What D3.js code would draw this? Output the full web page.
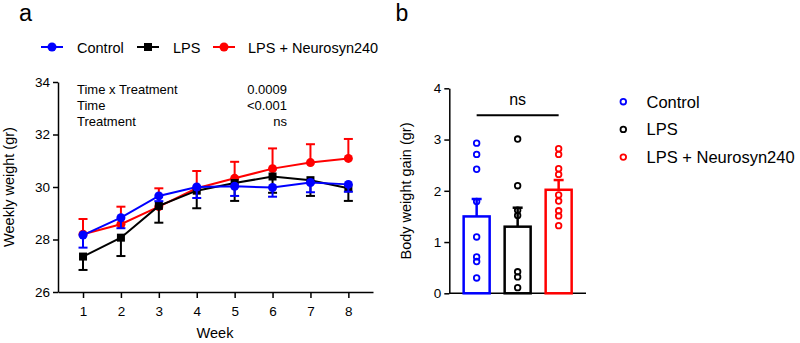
<!DOCTYPE html>
<html>
<head>
<meta charset="utf-8">
<script src="https://cdn.jsdelivr.net/npm/d3@7"></script>
<style>
  body { margin: 0; background: #fff; }
  svg { display: block; font-family: Arial, "Liberation Sans", sans-serif; }
</style>
</head>
<body>
<svg width="800" height="343"></svg>
<script>
'use strict';

// panel a: weekly weight, mean and SEM
var weeks = [1, 2, 3, 4, 5, 6, 7, 8];
var controlMean = [28.17, 28.83, 29.66, 30.0, 30.03, 29.98, 30.17, 30.1];
var controlSem  = [0.48, 0.4, 0.2, 0.42, 0.37, 0.35, 0.37, 0.28];
var lpsMean = [27.35, 28.07, 29.28, 29.86, 30.15, 30.4, 30.26, 29.95];
var lpsSem  = [0.51, 0.7, 0.64, 0.67, 0.68, 0.62, 0.6, 0.48];
var neuroMean = [28.2, 28.58, 29.25, 29.95, 30.33, 30.7, 30.93, 31.09];
var neuroSem  = [0.58, 0.67, 0.7, 0.66, 0.63, 0.77, 0.7, 0.74];
var weightTicks = [26, 28, 30, 32, 34];

var statNames  = ['Time x Treatment', 'Time', 'Treatment'];
var statValues = ['0.0009', '<0.001', 'ns'];

// panel b: body weight gain
var groups = ['Control', 'LPS', 'LPS + Neurosyn240'];
var gainMean = [1.5, 1.3, 2.02];
var gainSem  = [0.34, 0.37, 0.19];
var gainPoints = [
  [2.93, 2.71, 2.42, 1.79, 1.10, 0.71, 0.62, 0.30],
  [3.01, 2.10, 1.62, 1.52, 0.42, 0.32, 0.11],
  [2.82, 2.71, 2.43, 2.32, 1.92, 1.80, 1.61, 1.51, 1.32]
];
var gainTicks = [0, 1, 2, 3, 4];

var colors = ['#0000ff', '#000000', '#ff0000'];

var svg = d3.select('svg');

// ---------- panel a ----------
var x = d3.scaleLinear().domain([0.34, 8.65]).range([58, 373]);
var y = d3.scaleLinear().domain([26, 34]).range([292, 82]);

var gA = svg.append('g');

var yAxis = gA.append('g')
  .attr('transform', 'translate(58,0)')
  .call(d3.axisLeft(y).tickValues(weightTicks).tickSize(5).tickPadding(3).tickSizeOuter(0));
var xAxis = gA.append('g')
  .attr('transform', 'translate(0,292)')
  .call(d3.axisBottom(x).tickValues(weeks).tickSize(6).tickPadding(8).tickSizeOuter(0));
[yAxis, xAxis].forEach(function (a) {
  a.select('.domain').attr('stroke-width', 1.5);
  a.selectAll('.tick line').attr('stroke-width', 1.5);
  a.selectAll('text').attr('font-size', 13.5).attr('fill', '#000').attr('font-family', null);
});

gA.append('text')
  .attr('transform', 'translate(14,187) rotate(-90)')
  .attr('text-anchor', 'middle')
  .attr('font-size', 14.5)
  .text('Weekly weight (gr)');
gA.append('text')
  .attr('x', 215).attr('y', 338)
  .attr('text-anchor', 'middle')
  .attr('font-size', 14.5)
  .text('Week');

// stats table
statNames.forEach(function (s, i) {
  gA.append('text').attr('x', 77).attr('y', 94 + i * 16).attr('font-size', 13).text(s);
  gA.append('text').attr('x', 287).attr('y', 94 + i * 16).attr('font-size', 13)
    .attr('text-anchor', 'end').text(statValues[i]);
});

var series = [
  { mean: controlMean, sem: controlSem, dir: -1, shape: 'circle' },
  { mean: lpsMean, sem: lpsSem, dir: -1, shape: 'square' },
  { mean: neuroMean, sem: neuroSem, dir: 1, shape: 'circle' }
];
var drawOrder = [2, 1, 0];

var line = d3.line()
  .x(function (d, i) { return x(weeks[i]); })
  .y(function (d) { return y(d); });

drawOrder.forEach(function (k) {
  var s = series[k];
  var g = gA.append('g');
  // error bars (one-sided)
  s.mean.forEach(function (m, i) {
    var cx = x(weeks[i]);
    var end = y(m + s.dir * s.sem[i]);
    g.append('line').attr('x1', cx).attr('x2', cx)
      .attr('y1', y(m)).attr('y2', end)
      .attr('stroke', colors[k]).attr('stroke-width', 2);
    g.append('line').attr('x1', cx - 4.5).attr('x2', cx + 4.5)
      .attr('y1', end).attr('y2', end)
      .attr('stroke', colors[k]).attr('stroke-width', 2);
  });
  g.append('path').datum(s.mean)
    .attr('d', line)
    .attr('fill', 'none')
    .attr('stroke', colors[k])
    .attr('stroke-width', 2);
  if (s.shape === 'circle') {
    g.selectAll('circle').data(s.mean).enter().append('circle')
      .attr('cx', function (d, i) { return x(weeks[i]); })
      .attr('cy', function (d) { return y(d); })
      .attr('r', 4.5)
      .attr('fill', colors[k]);
  } else {
    g.selectAll('rect').data(s.mean).enter().append('rect')
      .attr('x', function (d, i) { return x(weeks[i]) - 4; })
      .attr('y', function (d) { return y(d) - 4; })
      .attr('width', 8).attr('height', 8)
      .attr('fill', colors[k]);
  }
});

// legend a
var legA = [
  { x: 41, tx: 77, shape: 'circle' },
  { x: 137, tx: 173, shape: 'square' },
  { x: 213, tx: 248, shape: 'circle' }
];
groups.forEach(function (name, k) {
  var l = legA[k];
  gA.append('line').attr('x1', l.x).attr('x2', l.x + 22)
    .attr('y1', 47).attr('y2', 47)
    .attr('stroke', colors[k]).attr('stroke-width', 2);
  if (l.shape === 'circle') {
    gA.append('circle').attr('cx', l.x + 11).attr('cy', 47).attr('r', 4.5).attr('fill', colors[k]);
  } else {
    gA.append('rect').attr('x', l.x + 7).attr('y', 43).attr('width', 8).attr('height', 8).attr('fill', colors[k]);
  }
  gA.append('text').attr('x', l.tx).attr('y', 52.5).attr('font-size', 14.5).text(name);
});

svg.append('text').attr('x', 19).attr('y', 21).attr('font-size', 23.5).text('a');

// ---------- panel b ----------
var xb = d3.scaleBand().domain(groups).range([449.3, 586])
  .paddingInner(0.366).paddingOuter(0.35);
var yb = d3.scaleLinear().domain([0, 4]).range([293.3, 88.3]);

var gB = svg.append('g');

var ybAxis = gB.append('g')
  .attr('transform', 'translate(449.3,0)')
  .call(d3.axisLeft(yb).tickValues(gainTicks).tickFormat(d3.format('d'))
    .tickSize(5).tickPadding(3).tickSizeOuter(0));
ybAxis.select('.domain').attr('stroke-width', 1.5);
ybAxis.selectAll('.tick line').attr('stroke-width', 1.5);
ybAxis.selectAll('text').attr('font-size', 13.5).attr('fill', '#000').attr('font-family', null);

gB.append('line')
  .attr('x1', 449.3).attr('x2', 586)
  .attr('y1', yb(0)).attr('y2', yb(0))
  .attr('stroke', '#000').attr('stroke-width', 1.5);

gB.append('text')
  .attr('transform', 'translate(411,191) rotate(-90)')
  .attr('text-anchor', 'middle')
  .attr('font-size', 14.5)
  .text('Body weight gain (gr)');

groups.forEach(function (gname, k) {
  var bx = xb(gname), bw = xb.bandwidth(), cx = bx + bw / 2;
  gB.append('rect')
    .attr('x', bx).attr('y', yb(gainMean[k]))
    .attr('width', bw).attr('height', yb(0) - yb(gainMean[k]))
    .attr('fill', 'none').attr('stroke', colors[k]).attr('stroke-width', 2.5);
  var top = yb(gainMean[k] + gainSem[k]);
  gB.append('line').attr('x1', cx).attr('x2', cx)
    .attr('y1', yb(gainMean[k])).attr('y2', top)
    .attr('stroke', colors[k]).attr('stroke-width', 2.5);
  gB.append('line').attr('x1', cx - 5).attr('x2', cx + 5)
    .attr('y1', top).attr('y2', top)
    .attr('stroke', colors[k]).attr('stroke-width', 2.5);
  gB.selectAll('circle.p' + k).data(gainPoints[k]).enter().append('circle')
    .attr('class', 'p' + k)
    .attr('cx', cx)
    .attr('cy', function (d) { return yb(d); })
    .attr('r', 2.8)
    .attr('fill', 'none')
    .attr('stroke', colors[k])
    .attr('stroke-width', 1.8);
});

// significance bracket
gB.append('line')
  .attr('x1', xb(groups[0]) + xb.bandwidth() / 2)
  .attr('x2', xb(groups[2]) + xb.bandwidth() / 2)
  .attr('y1', 115.3).attr('y2', 115.3)
  .attr('stroke', '#000').attr('stroke-width', 2);
gB.append('text')
  .attr('x', xb(groups[1]) + xb.bandwidth() / 2).attr('y', 105)
  .attr('text-anchor', 'middle').attr('font-size', 16)
  .text('ns');

// legend b
groups.forEach(function (name, k) {
  var ly = 101.7 + k * 27.7;
  gB.append('circle').attr('cx', 623.3).attr('cy', ly).attr('r', 2.8)
    .attr('fill', 'none').attr('stroke', colors[k]).attr('stroke-width', 1.8);
  gB.append('text').attr('x', 646.5).attr('y', ly + 5.8).attr('font-size', 16.5).text(name);
});

svg.append('text').attr('x', 395.5).attr('y', 21).attr('font-size', 23).text('b');
</script>
</body>
</html>
